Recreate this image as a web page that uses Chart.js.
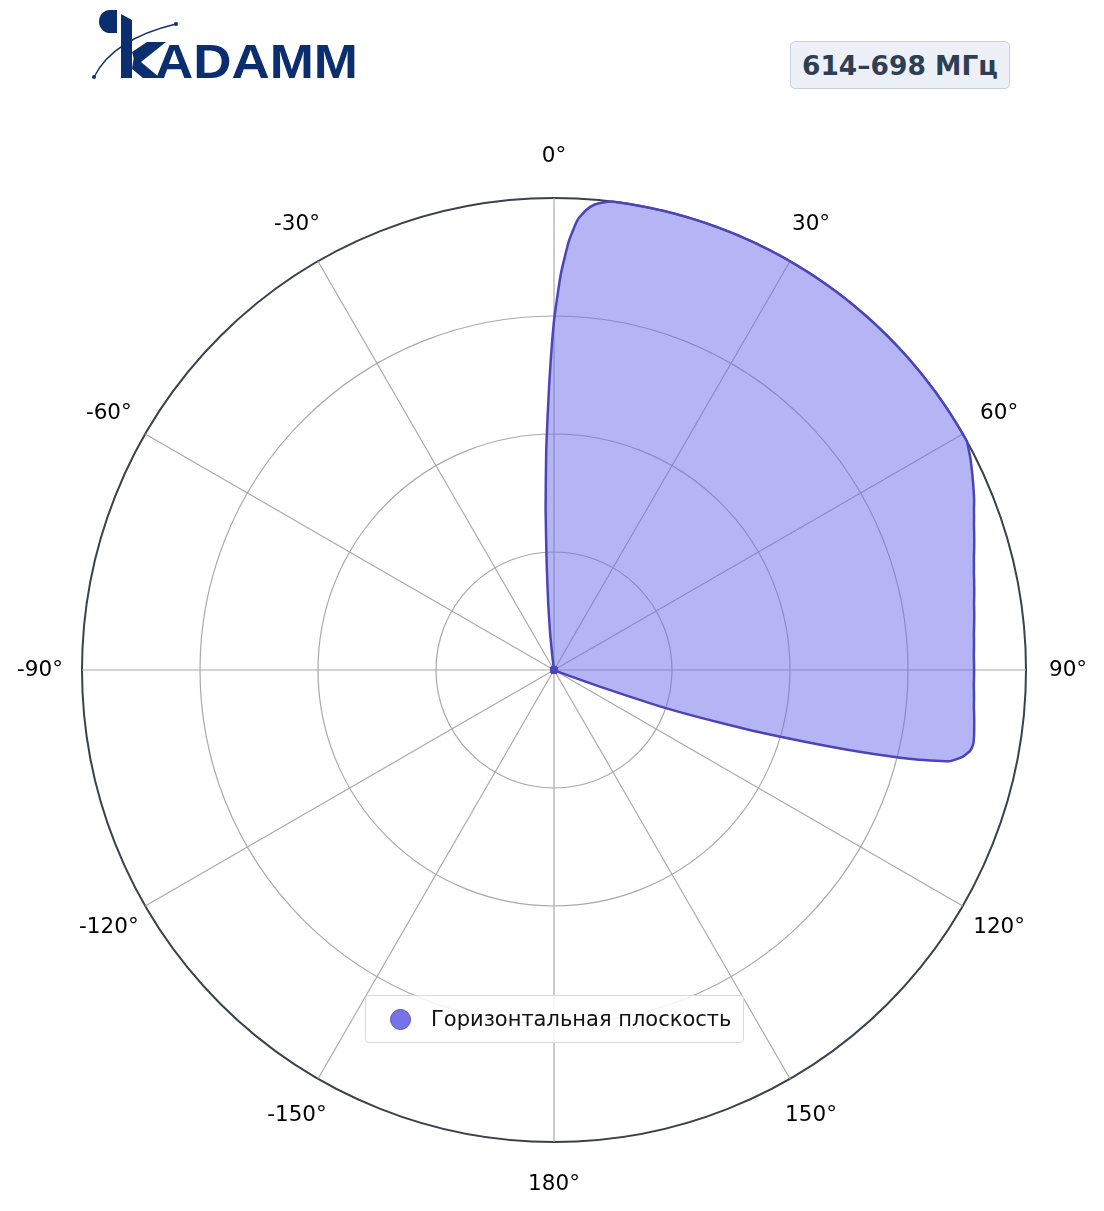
<!DOCTYPE html>
<html>
<head>
<meta charset="utf-8">
<script src="https://cdn.jsdelivr.net/npm/chart.js@4.4.0/dist/chart.umd.min.js"></script>
<style>
  html, body { margin: 0; padding: 0; background: #fff; }
  #wrap { position: relative; width: 1104px; height: 1211px; font-family: "DejaVu Sans", sans-serif; }
  #chartBox { position: absolute; left: 0; top: 0; width: 1104px; height: 1211px; }
  #logo { position: absolute; left: 0; top: 0; }
  #band {
    position: absolute; left: 790px; top: 41px; width: 218px; height: 46px;
    background: #edf1f7; border: 1.5px solid #c9d3e0; border-radius: 5px;
    color: #2e3e53; font-weight: bold; font-size: 26.5px;
    display: flex; align-items: center; justify-content: center;
  }
  #legend {
    position: absolute; left: 365px; top: 995px; width: 377px; height: 46px;
    background: rgba(255, 255, 255, 0.85); border: 1.5px solid #d6d9e3; border-radius: 4px;
    display: flex; align-items: center; font-size: 21px; color: #111;
  }
  #legend .dot {
    width: 19px; height: 19px; border-radius: 50%; margin-left: 24px; margin-right: 20px;
    background: #7773e8; border: 1.5px solid #5550c0;
  }
</style>
</head>
<body>
<div id="wrap">
  <div id="chartBox"><canvas id="polarChart"></canvas></div>

  <svg id="logo" width="380" height="100" viewBox="0 0 380 100">
    <path d="M117 10 L117 33 L110 33 A11 11.5 0 0 1 110 10 Z" fill="#0b2f6e"/>
    <path d="M94 77 C 105 55, 130 35, 176 24" fill="none" stroke="#0b2f6e" stroke-width="1.3"/>
    <circle cx="94" cy="77" r="2" fill="#0b2f6e"/>
    <circle cx="176" cy="24" r="2" fill="#0b2f6e"/>
    <path d="M121 14 L132 20 L132 78 L121 78 Z" fill="#0b2f6e"/>
    <path d="M132 52 L147 42 L166 42 L136 66 Z" fill="#0b2f6e"/>
    <path d="M134 56 L160 78 L143 78 L132 69 Z" fill="#0b2f6e"/>
    <text x="155" y="78" font-family="Liberation Sans, Arial, sans-serif" font-weight="bold"
          font-size="49" fill="#0b2f6e" textLength="203" lengthAdjust="spacingAndGlyphs">ADAMM</text>
  </svg>

  <div id="band">614–698 МГц</div>

  <div id="legend"><span class="dot"></span><span>Горизонтальная плоскость</span></div>
</div>

<script>
// azimuth step is 1 degree, index 0 = 0°, clockwise
const angles = Array.from({ length: 360 }, (_, i) => i);

const tickAngles = [0, 30, 60, 90, 120, 150, 180, -150, -120, -90, -60, -30];
const tickLabels = ["0°", "30°", "60°", "90°", "120°", "150°", "180°", "-150°", "-120°", "-90°", "-60°", "-30°"];

// normalized gain, horizontal plane
const gainH = [
  0.74, 0.84, 0.91, 0.955, 0.977, 0.99, 0.996, 1, 1, 1, 1, 1, 1, 1, 1, 1, 1, 1, 1, 1,
  1, 1, 1, 1, 1, 1, 1, 1, 1, 1, 1, 1, 1, 1, 1, 1, 1, 1, 1, 1,
  1, 1, 1, 1, 1, 1, 1, 1, 1, 1, 1, 1, 1, 1, 1, 1, 1, 1, 1, 1,
  1, 1, 0.995, 0.99, 0.984, 0.978, 0.972, 0.966, 0.96, 0.953, 0.947, 0.941, 0.936, 0.931, 0.926, 0.921, 0.917, 0.913, 0.91, 0.907,
  0.904, 0.901, 0.899, 0.897, 0.895, 0.893, 0.892, 0.891, 0.89, 0.89, 0.89, 0.89, 0.89, 0.891, 0.892, 0.893, 0.895, 0.897, 0.899, 0.901,
  0.902, 0.898, 0.885, 0.86, 0.78, 0.67, 0.55, 0.44, 0.33, 0.23, 0.1, 0.03, 0, 0, 0, 0, 0, 0, 0, 0,
  0, 0, 0, 0, 0, 0, 0, 0, 0, 0, 0, 0, 0, 0, 0, 0, 0, 0, 0, 0,
  0, 0, 0, 0, 0, 0, 0, 0, 0, 0, 0, 0, 0, 0, 0, 0, 0, 0, 0, 0,
  0, 0, 0, 0, 0, 0, 0, 0, 0, 0, 0, 0, 0, 0, 0, 0, 0, 0, 0, 0,
  0, 0, 0, 0, 0, 0, 0, 0, 0, 0, 0, 0, 0, 0, 0, 0, 0, 0, 0, 0,
  0, 0, 0, 0, 0, 0, 0, 0, 0, 0, 0, 0, 0, 0, 0, 0, 0, 0, 0, 0,
  0, 0, 0, 0, 0, 0, 0, 0, 0, 0, 0, 0, 0, 0, 0, 0, 0, 0, 0, 0,
  0, 0, 0, 0, 0, 0, 0, 0, 0, 0, 0, 0, 0, 0, 0, 0, 0, 0, 0, 0,
  0, 0, 0, 0, 0, 0, 0, 0, 0, 0, 0, 0, 0, 0, 0, 0, 0, 0, 0, 0,
  0, 0, 0, 0, 0, 0, 0, 0, 0, 0, 0, 0, 0, 0, 0, 0, 0, 0, 0, 0,
  0, 0, 0, 0, 0, 0, 0, 0, 0, 0, 0, 0, 0, 0, 0, 0, 0, 0, 0, 0,
  0, 0, 0, 0, 0, 0, 0, 0, 0, 0, 0, 0, 0, 0, 0, 0, 0, 0, 0, 0,
  0, 0, 0, 0, 0, 0, 0, 0, 0, 0, 0, 0, 0, 0.03, 0.08, 0.14, 0.22, 0.34, 0.47, 0.6,
];

const GRID_COLOR = "#a9a9a9";
const OUTER_COLOR = "#3c404a";
const LINE_COLOR = "#4b46b8";

// degree labels centered on a circle just outside the plot
const degreeLabels = {
  id: "degreeLabels",
  afterDraw(chart) {
    const scale = chart.scales.r;
    const ctx = chart.ctx;
    ctx.save();
    ctx.font = '21.5px "DejaVu Sans", sans-serif';
    ctx.fillStyle = "#000";
    ctx.textAlign = "center";
    ctx.textBaseline = "middle";
    tickAngles.forEach((a, k) => {
      const idx = (a + 360) % 360;
      const p = scale.getPointPosition(idx, scale.drawingArea + 42);
      ctx.fillText(tickLabels[k], p.x, p.y);
    });
    ctx.restore();
  },
};

new Chart(document.getElementById("polarChart"), {
  type: "radar",
  data: {
    labels: angles,
    datasets: [
      {
        label: "Горизонтальная плоскость",
        data: gainH,
        borderColor: LINE_COLOR,
        backgroundColor: "rgba(108, 106, 235, 0.5)",
        borderWidth: 2.5,
        fill: true,
        tension: 0.15,
        pointRadius: (c) => (c.raw === 0 ? 4 : 0),
        pointBackgroundColor: LINE_COLOR,
        pointBorderWidth: 0,
        pointHoverRadius: 0,
        pointHitRadius: 0,
      },
    ],
  },
  options: {
    responsive: true,
    maintainAspectRatio: false,
    animation: false,
    devicePixelRatio: 1,
    layout: {
      padding: { left: 82, right: 78, top: 198, bottom: 69 },
    },
    scales: {
      r: {
        min: 0,
        max: 1,
        ticks: { display: false, stepSize: 0.25 },
        grid: {
          circular: true,
          color: (c) => (c.tick && c.tick.value === 1 ? OUTER_COLOR : GRID_COLOR),
          lineWidth: (c) => (c.tick && c.tick.value === 1 ? 2 : 1.2),
        },
        angleLines: {
          color: (c) => (c.index % 30 === 0 ? GRID_COLOR : "rgba(0,0,0,0)"),
          lineWidth: (c) => (c.index % 30 === 0 ? 1.2 : 0),
        },
        pointLabels: { display: false },
      },
    },
    plugins: {
      legend: { display: false },
      tooltip: { enabled: false },
    },
  },
  plugins: [degreeLabels],
});
</script>
</body>
</html>
